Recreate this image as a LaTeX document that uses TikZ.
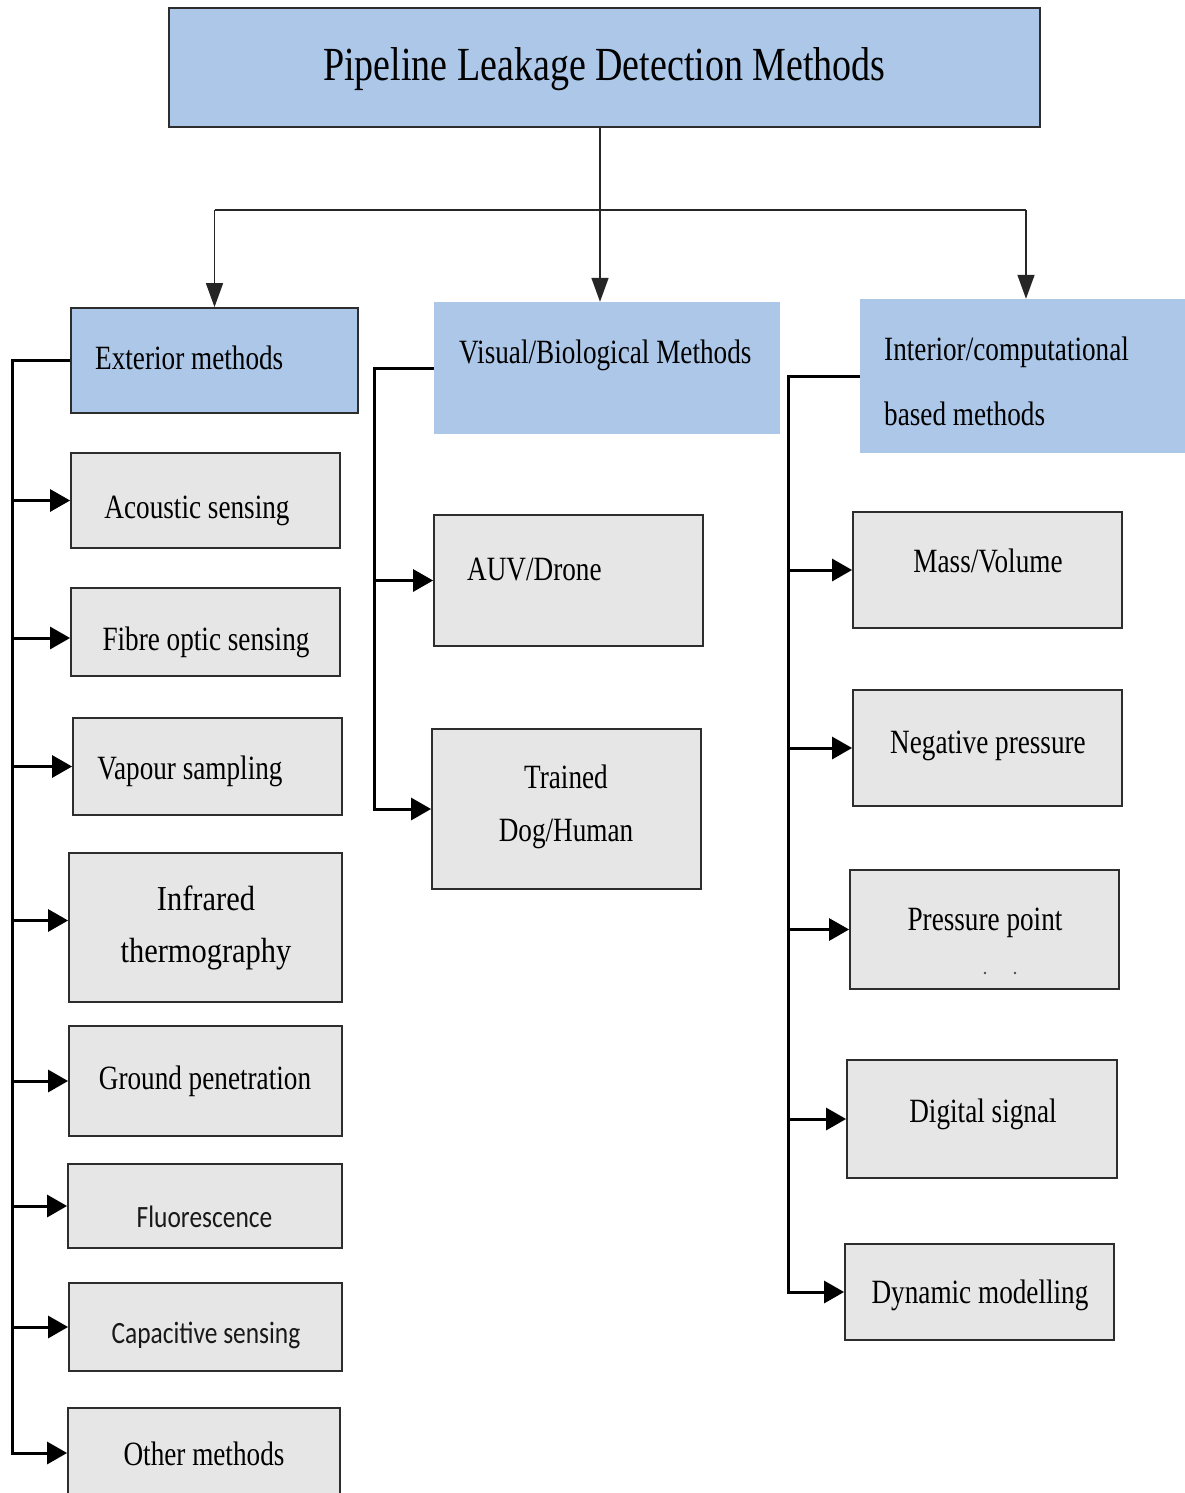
\documentclass[tikz,border=0pt]{standalone}
\usepackage{fontspec}
\setmainfont{Liberation Serif}[FakeStretch=0.8]
\newfontfamily\widerserif{Liberation Serif}[FakeStretch=0.87]
\newfontfamily\calibrisans{Carlito}[FakeStretch=0.82]
\usetikzlibrary{arrows.meta}
\definecolor{headblue}{RGB}{172,199,232}
\definecolor{boxgray}{RGB}{230,230,230}
\definecolor{edgegray}{RGB}{45,45,45}

\begin{document}
\begin{tikzpicture}[x=1pt,y=-1pt,
  rect/.style 2 args={minimum width=#1, minimum height=#2, inner sep=0pt},
  headbox/.style={fill=headblue, draw=edgegray, line width=1.8pt},
  headflat/.style={fill=headblue, draw=none},
  itembox/.style={fill=boxgray, draw=edgegray, line width=1.8pt},
  txt/.style={inner sep=0pt, text=black, font=\fontsize{34}{40}\selectfont},
  widetxt/.style={inner sep=0pt, text=black, font=\widerserif\fontsize{35}{40}\selectfont},
  titletxt/.style={inner sep=0pt, text=black, font=\fontsize{47.5}{55}\selectfont},
  sanstxt/.style={inner sep=0pt, text=black!90, font=\calibrisans\fontsize{31}{37}\selectfont},
  feed/.style={line width=1.6pt, draw=black!85, -{Triangle[length=24pt,width=17pt]}},
  feedline/.style={line width=1.6pt, draw=black!85},
  tap/.style={line width=3pt, draw=black, -{Triangle[length=20pt,width=22pt]}},
]
\useasboundingbox (0,0) rectangle (1185,1493);
\clip (0,0) rectangle (1185,1493);
\fill[white] (0,0) rectangle (1185,1493);

% ---------- main title and the three method groups ----------
\node[headbox, rect={871}{119}] (title) at (604.5,67.5) {};
\node[titletxt, anchor=base] (titleT) at (604.5,81) {Pipeline Leakage Detection Methods};

\node[headbox, rect={287}{105}] (ext) at (214.5,360.5) {};
\node[txt, anchor=base west] (extT) at (95,369) {Exterior methods};

\node[headflat, rect={346}{132}] (vis) at (607,368) {};
\node[txt, anchor=base west] (visT) at (459,363) {Visual/Biological Methods};

\node[headflat, rect={330}{154}] (int) at (1025,376) {};
\node[txt, anchor=base west] (intT1) at (884,360) {Interior/computational};
\node[txt, anchor=base west] (intT2) at (884,425) {based methods};

% ---------- exterior methods ----------
\node[itembox, rect={269}{95}]  (acou) at (205.5,500.5) {};
\node[txt, anchor=base] (acouT) at (197,518) {Acoustic sensing};
\node[itembox, rect={269}{88}]  (fibre) at (205.5,632) {};
\node[txt, anchor=base] (fibreT) at (206,650) {Fibre optic sensing};
\node[itembox, rect={269}{97}]  (vap) at (207.5,766.5) {};
\node[txt, anchor=base] (vapT) at (190,779) {Vapour sampling};
\node[itembox, rect={273}{149}] (infra) at (205.5,927.5) {};
\node[widetxt, anchor=base] (infraT1) at (206,910) {Infrared};
\node[widetxt, anchor=base] (infraT2) at (206,962) {thermography};
\node[itembox, rect={273}{110}] (gpr) at (205.5,1081) {};
\node[txt, anchor=base] (gprT) at (205,1089) {Ground penetration};
\node[itembox, rect={274}{84}]  (fluo) at (205,1206) {};
\node[sanstxt, anchor=base] (fluoT) at (204.5,1227) {Fluorescence};
\node[itembox, rect={273}{88}]  (capa) at (205.5,1327) {};
\node[sanstxt, anchor=base] (capaT) at (206,1343) {Capacitive sensing};
\node[itembox, rect={272}{90}]  (oth) at (204,1453) {};
\node[txt, anchor=base] (othT) at (204,1465) {Other methods};

% ---------- visual / biological methods ----------
\node[itembox, rect={269}{131}] (auv) at (568.5,580.5) {};
\node[txt, anchor=base west] (auvT) at (467,580) {AUV/Drone};
\node[itembox, rect={269}{160}] (dog) at (566.5,809) {};
\node[txt, anchor=base] (dogT1) at (566,788) {Trained};
\node[txt, anchor=base] (dogT2) at (566,841) {Dog/Human};

% ---------- interior / computational methods ----------
\node[itembox, rect={269}{116}] (mass) at (987.5,570) {};
\node[txt, anchor=base] (massT) at (988,572) {Mass/Volume};
\node[itembox, rect={269}{116}] (neg) at (987.5,748) {};
\node[txt, anchor=base] (negT) at (988,753) {Negative pressure};
\node[itembox, rect={269}{119}] (ppt) at (984.5,929.5) {};
\node[txt, anchor=base] (pptT) at (985,930) {Pressure point};
\fill[black!70] (985,973) circle[radius=1.3pt] (1015,973) circle[radius=1.3pt];
\node[itembox, rect={270}{118}] (dig) at (982,1119) {};
\node[txt, anchor=base] (digT) at (983,1122) {Digital signal};
\node[itembox, rect={269}{96}]  (dyn) at (979.5,1292) {};
\node[txt, anchor=base] (dynT) at (980,1303) {Dynamic modelling};

% ---------- connectors from the title ----------
\coordinate (hub) at (600,210);
\coordinate (rtop) at (1026,210);
\draw[feed] (title.south -| hub) -- (hub |- vis.north);
\draw[feedline] (ext.north |- hub) -- (rtop);
\draw[feed] (ext.north |- hub) -- (ext.north);
\draw[feed] (rtop) -- (rtop |- int.north);

% ---------- branch buses ----------
\coordinate (busL) at (12,360);
\coordinate (busM) at (374,368);
\coordinate (busR) at (788,376);

\draw[tap] (ext.west) -- (ext.west -| busL) -- (busL |- oth.west) -- (oth.west);
\foreach \n in {acou,vap,gpr,fluo,capa}
  \draw[tap] (busL |- \n.west) -- (\n.west);
% these two taps meet their boxes a little off centre
\draw[tap] (busL |- fibre.west) ++(0,6) -- ([yshift=-6pt]fibre.west);
\draw[tap] (busL |- infra.west) ++(0,-7) -- ([yshift=7pt]infra.west);

\draw[tap] (vis.west) -- (vis.west -| busM) -- (busM |- dog.west) -- (dog.west);
\draw[tap] (busM |- auv.west) -- (auv.west);

\draw[tap] (int.west) -- (int.west -| busR) -- (busR |- dyn.west) -- (dyn.west);
\foreach \n in {mass,neg,ppt,dig}
  \draw[tap] (busR |- \n.west) -- (\n.west);
\end{tikzpicture}
\end{document}
